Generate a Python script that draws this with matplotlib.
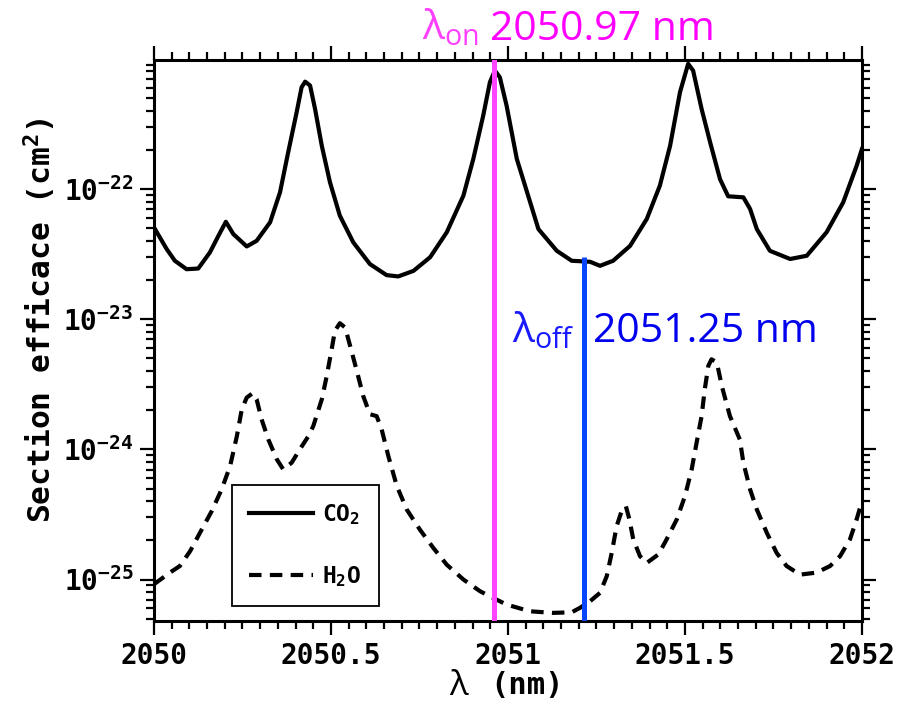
import matplotlib
matplotlib.use('Agg')
import matplotlib.pyplot as plt
from matplotlib.ticker import MultipleLocator, FuncFormatter, NullFormatter, FixedLocator

# absorption cross sections (cm^2)
co2_wl = [2050.000, 2050.036, 2050.059, 2050.092, 2050.125, 2050.158, 2050.182, 2050.203,
          2050.224, 2050.262, 2050.290, 2050.328, 2050.356, 2050.379, 2050.403, 2050.417,
          2050.427, 2050.441, 2050.455, 2050.474, 2050.497, 2050.525, 2050.563, 2050.610,
          2050.657, 2050.690, 2050.733, 2050.780, 2050.827, 2050.874, 2050.902, 2050.930,
          2050.949, 2050.963, 2050.977, 2050.996, 2051.025, 2051.057, 2051.086, 2051.138,
          2051.180, 2051.232, 2051.260, 2051.297, 2051.345, 2051.392, 2051.429, 2051.458,
          2051.486, 2051.509, 2051.523, 2051.547, 2051.571, 2051.599, 2051.622, 2051.665,
          2051.684, 2051.703, 2051.740, 2051.797, 2051.844, 2051.900, 2051.947, 2051.985,
          2052.000]
co2_sigma = [5.07e-23, 3.45e-23, 2.81e-23, 2.42e-23, 2.45e-23, 3.26e-23, 4.37e-23, 5.60e-23,
             4.51e-23, 3.62e-23, 4.00e-23, 5.55e-23, 9.43e-23, 1.91e-22, 3.89e-22, 6.05e-22,
             6.68e-22, 6.23e-22, 4.12e-22, 2.15e-22, 1.13e-22, 6.24e-23, 3.89e-23, 2.65e-23,
             2.18e-23, 2.13e-23, 2.35e-23, 2.99e-23, 4.65e-23, 8.88e-23, 1.70e-22, 3.66e-22,
             6.62e-22, 8.13e-22, 7.22e-22, 4.38e-22, 1.70e-22, 8.88e-23, 4.92e-23, 3.35e-23,
             2.81e-23, 2.76e-23, 2.57e-23, 2.81e-23, 3.66e-23, 5.88e-23, 1.06e-22, 2.15e-22,
             5.55e-22, 9.15e-22, 8.13e-22, 4.12e-22, 2.29e-22, 1.19e-22, 8.79e-23, 8.63e-23,
             7.02e-23, 4.92e-23, 3.35e-23, 2.90e-23, 3.07e-23, 4.65e-23, 7.90e-23, 1.51e-22,
             2.03e-22]

h2o_wl = [2050.000, 2050.045, 2050.073, 2050.102, 2050.130, 2050.163, 2050.191, 2050.215,
          2050.234, 2050.248, 2050.262, 2050.279, 2050.290, 2050.304, 2050.323, 2050.347,
          2050.365, 2050.389, 2050.412, 2050.436, 2050.450, 2050.474, 2050.488, 2050.502,
          2050.511, 2050.525, 2050.540, 2050.554, 2050.573, 2050.591, 2050.610, 2050.629,
          2050.643, 2050.662, 2050.686, 2050.714, 2050.751, 2050.789, 2050.827, 2050.874,
          2050.921, 2050.958, 2050.996, 2051.062, 2051.127, 2051.180, 2051.203, 2051.232,
          2051.260, 2051.279, 2051.293, 2051.307, 2051.321, 2051.333, 2051.343, 2051.354,
          2051.373, 2051.392, 2051.425, 2051.448, 2051.477, 2051.500, 2051.519, 2051.533,
          2051.547, 2051.556, 2051.566, 2051.575, 2051.590, 2051.604, 2051.627, 2051.655,
          2051.665, 2051.684, 2051.703, 2051.731, 2051.759, 2051.787, 2051.825, 2051.872,
          2051.910, 2051.938, 2051.966, 2051.985, 2052.000]
h2o_sigma = [9.2e-26, 1.13e-25, 1.27e-25, 1.65e-25, 2.29e-25, 3.35e-25, 4.92e-25, 7.44e-25,
             1.26e-24, 2.03e-24, 2.50e-24, 2.70e-24, 2.42e-24, 1.70e-24, 1.19e-24, 8.38e-25,
             7.02e-25, 7.90e-25, 1.00e-24, 1.26e-24, 1.51e-24, 2.42e-24, 3.66e-24, 5.88e-24,
             8.13e-24, 9.31e-24, 8.63e-24, 6.24e-24, 4.00e-24, 2.57e-24, 1.86e-24, 1.80e-24,
             1.43e-24, 8.88e-25, 5.22e-25, 3.45e-25, 2.42e-25, 1.75e-25, 1.30e-25, 1.00e-25,
             8.13e-26, 7.22e-26, 6.42e-26, 5.70e-26, 5.54e-26, 5.60e-26, 6.05e-26, 6.81e-26,
             7.90e-26, 1.06e-25, 1.60e-25, 2.57e-25, 3.35e-25, 3.66e-25, 2.90e-25, 2.03e-25,
             1.51e-25, 1.34e-25, 1.56e-25, 2.03e-25, 2.90e-25, 4.38e-25, 7.02e-25, 1.13e-24,
             1.80e-24, 2.90e-24, 4.38e-24, 4.92e-24, 4.65e-24, 3.07e-24, 1.80e-24, 1.19e-24,
             7.90e-25, 4.92e-25, 3.45e-25, 2.29e-25, 1.60e-25, 1.27e-25, 1.09e-25, 1.13e-25,
             1.27e-25, 1.51e-25, 2.03e-25, 2.90e-25, 4.00e-25]

y_major = [1e-25, 1e-24, 1e-23, 1e-22]
y_minor = [m * 10.0 ** e for e in (-26, -25, -24, -23, -22) for m in range(2, 10)]

lambda_on = 2050.96       # where the line is drawn
lambda_off = 2051.215
lambda_off_top = 3.0e-23
on_label = '2050.97 nm'
off_label = '2051.25 nm'

plt.rcParams['font.family'] = 'DejaVu Sans Mono'
plt.rcParams['font.weight'] = 'bold'

fig = plt.figure(figsize=(8.99, 7.04), dpi=100)
ax = fig.add_axes([0.1713, 0.1179, 0.7875, 0.7969])

ax.plot(co2_wl, co2_sigma, color='black', linewidth=3, label=r'CO$_{\mathdefault{2}}$',
        zorder=2, solid_joinstyle='round')
ax.plot(h2o_wl, h2o_sigma, color='black', linewidth=3, linestyle=(0, (3, 2)),
        label=r'H$_{\mathdefault{2}}$O', zorder=2)

ax.set_yscale('log')
ax.set_xlim(2050, 2052)
ax.set_ylim(4.8e-26, 9.8e-22)

ax.axvline(lambda_on, color='#ff44ff', linewidth=3.6, zorder=3)
ax.vlines(lambda_off, 4.8e-26, lambda_off_top, color='#0a44ff', linewidth=3.6, zorder=3)

# ticks
ax.xaxis.set_major_locator(MultipleLocator(0.5))
ax.xaxis.set_minor_locator(MultipleLocator(0.05))
ax.xaxis.set_major_formatter(FuncFormatter(lambda v, p: '%g' % v))
ax.yaxis.set_major_locator(FixedLocator(y_major))
ax.yaxis.set_minor_locator(FixedLocator(y_minor))
ax.yaxis.set_minor_formatter(NullFormatter())
ax.tick_params(which='both', direction='out', top=True, right=True, width=1.6, labelsize=20)
ax.tick_params(which='major', length=10, pad=5)
ax.tick_params(which='minor', length=6)
for side in ax.spines.values():
    side.set_linewidth(2.2)

# labels
fig.text(40 / 899, 1 - 320 / 704, r'Section efficace (cm$^{\mathdefault{2}}$)', rotation=90,
         ha='center', va='center', fontsize=22.5, fontweight='bold')
fig.text(458 / 899, 1 - 686 / 704, 'λ', ha='center', va='center', fontsize=25,
         family='Open Sans', fontweight='normal')
fig.text(490 / 899, 1 - 686 / 704, '(nm)', ha='left', va='center', fontsize=22, fontweight='bold')

# laser wavelength annotations
ax.text(2050.757, 1.036, r'λ$_{\mathdefault{on}}$', transform=ax.get_xaxis_transform(),
        color='#ff40ff', fontsize=29.5, family='Open Sans', fontweight='normal', va='baseline')
ax.text(2050.949, 1.036, on_label, transform=ax.get_xaxis_transform(),
        color='#ff00ff', fontsize=29.5, family='Open Sans', fontweight='normal', va='baseline')
ax.text(2051.011, 0.497, r'λ$_{\mathdefault{off}}$', transform=ax.get_xaxis_transform(),
        color='#1a1aff', fontsize=29.5, family='Open Sans', fontweight='normal', va='baseline')
ax.text(2051.240, 0.497, off_label, transform=ax.get_xaxis_transform(),
        color='#0000ee', fontsize=29.5, family='Open Sans', fontweight='normal', va='baseline')

leg = ax.legend(loc='lower left', bbox_to_anchor=(0.110, 0.027), borderaxespad=0,
                fontsize=16.5, handlelength=2.8, handletextpad=0.4, labelspacing=1.6,
                borderpad=0.75, fancybox=False, framealpha=1, edgecolor='black')
leg.get_frame().set_linewidth(1.3)

plt.savefig('out.png', dpi=100, facecolor='white')
